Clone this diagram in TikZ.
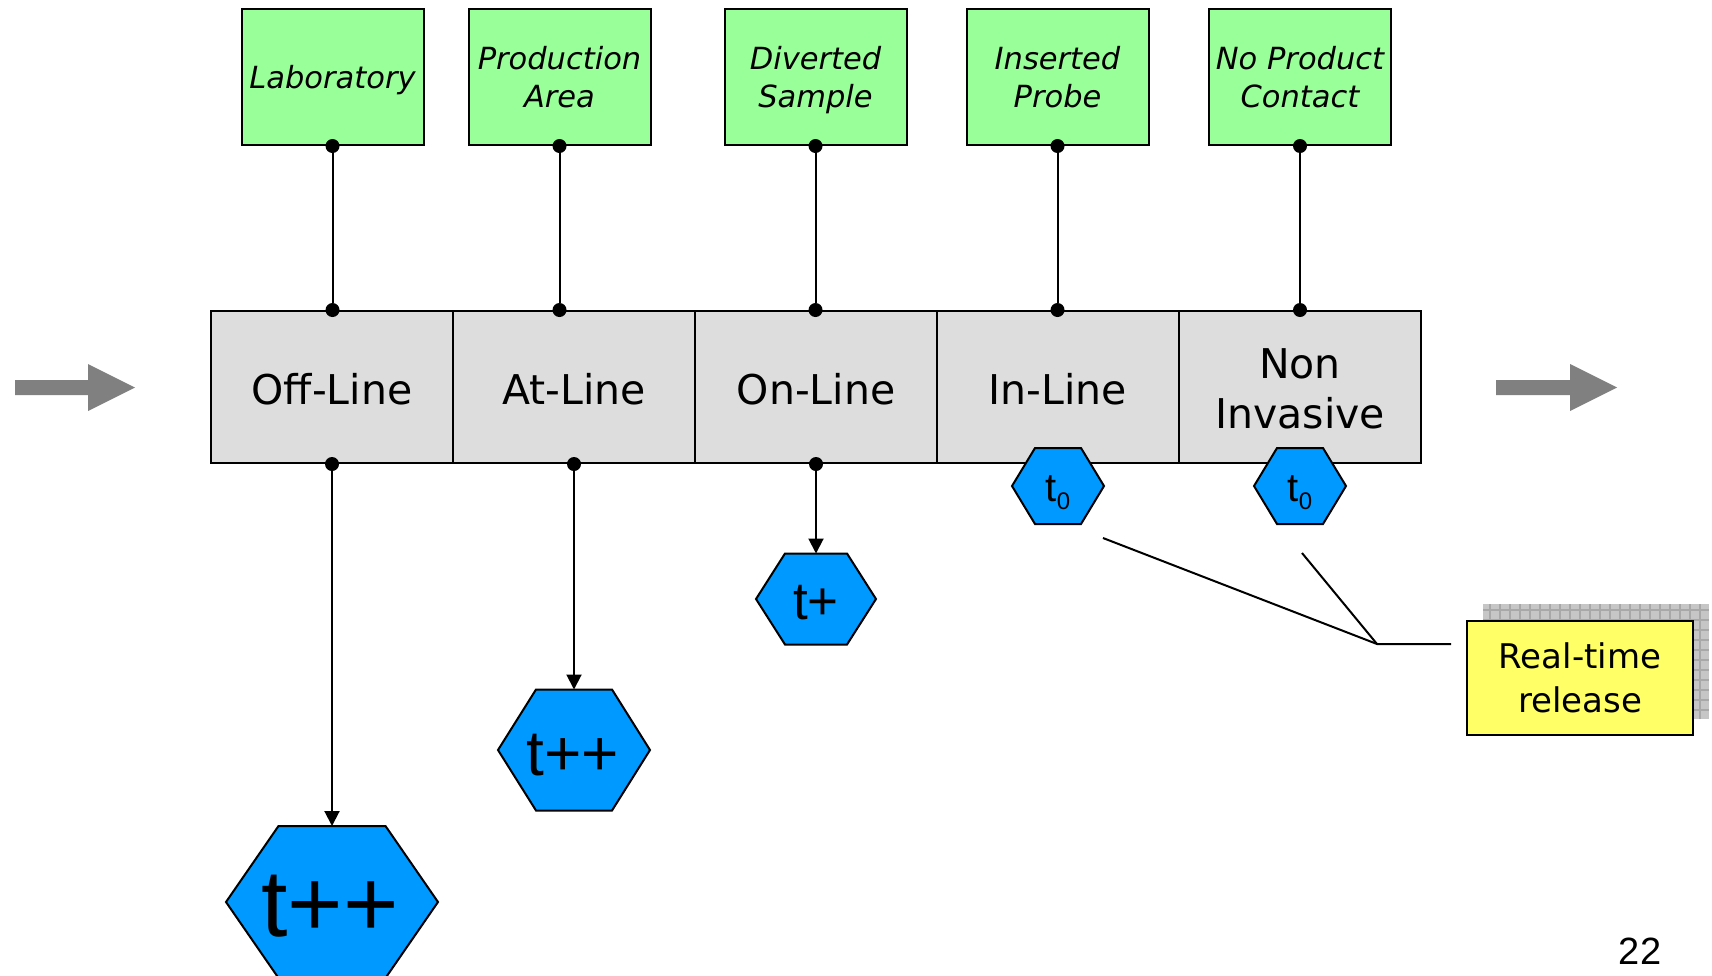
\documentclass[tikz,border=0pt]{standalone}
\usepackage{fontspec}
\setmainfont{DejaVu Sans}
\newfontfamily\numfont{Liberation Sans}
\usetikzlibrary{arrows.meta}

\definecolor{probegreen}{HTML}{99FF99}
\definecolor{cellgray}{HTML}{DDDDDD}
\definecolor{hexblue}{HTML}{0099FF}
\definecolor{noteyellow}{HTML}{FFFF66}
\definecolor{flowgray}{HTML}{808080}
\definecolor{shadowgray}{HTML}{C6C6C6}
\definecolor{shadowline}{HTML}{A8A8A8}

% lower a cell caption a little without changing its measured size
\newcommand\lowered[2][2pt]{\raisebox{-#1}[\height][\depth]{#2}}

\tikzset{
  locbox/.style={draw, line width=2pt, fill=probegreen, minimum width=182pt,
    minimum height=136pt, inner sep=0pt, align=center, text depth=0pt,
    font=\fontsize{30.5}{38}\selectfont\itshape},
  cell/.style={draw, line width=2pt, fill=cellgray, minimum width=242pt,
    minimum height=152pt, inner sep=0pt, align=center,
    font=\fontsize{41}{50}\selectfont},
  joint/.style={circle, fill=black, inner sep=0pt, minimum size=14pt},
  link/.style={line width=2pt},
  feed/.style={line width=2pt, -{Triangle[length=15pt,width=15pt]}},
  hexlabel/.style={inner sep=0pt, anchor=base},
  flowarrow/.style={fill=flowgray},
  note/.style={draw, line width=2pt, fill=noteyellow, minimum width=226pt,
    minimum height=114pt, inner sep=0pt, align=center,
    font=\fontsize{34}{44}\selectfont},
  pics/hexa/.style n args={3}{code={
    \filldraw[fill=hexblue, draw=black, line width=2pt]
      (-#1,0) -- (-#3,-#2) -- (#3,-#2) -- (#1,0) -- (#3,#2) -- (-#3,#2) -- cycle;}},
}

\begin{document}
\begin{tikzpicture}[x=1pt, y=-1pt]
\useasboundingbox (0,0) rectangle (1712,975);

% flow direction arrows
\fill[flowarrow] (15,380) -- (88,380) -- (88,364) -- (135,387.5) -- (88,411) -- (88,395) -- (15,395) -- cycle;
\fill[flowarrow] (1496,380) -- (1570,380) -- (1570,364) -- (1617,387.5) -- (1570,411) -- (1570,395) -- (1496,395) -- cycle;

% sampling locations
\node[locbox] (lab)  at (332.5,77) {Laboratory};
\node[locbox] (prod) at (559.5,77) {Production\\Area};
\node[locbox] (div)  at (815.5,77) {Diverted\\Sample};
\node[locbox] (ins)  at (1057.5,77) {Inserted\\Probe};
\node[locbox] (noc)  at (1300,77) {No Product\\Contact};

% measurement modes
\node[cell] (off) at (332,387) {\lowered{Off-Line}};
\node[cell] (at)  at (574,387) {\lowered{At-Line}};
\node[cell] (on)  at (816,387) {\lowered{On-Line}};
\node[cell] (in)  at (1058,387) {\lowered{In-Line}};
\node[cell] (non) at (1300,387) {\lowered[6.5pt]{\begin{tabular}{@{}c@{}}Non\\Invasive\end{tabular}}};

% joints on the location boxes and on the mode row
\node[joint] (labj)  at (lab.south) {};
\node[joint] (prodj) at (prod.south) {};
\node[joint] (divj)  at (div.south) {};
\node[joint] (insj)  at (ins.south) {};
\node[joint] (nocj)  at (noc.south) {};
\node[joint] (offt) at (off.north -| lab.south) {};
\node[joint] (att)  at (at.north -| prod.south) {};
\node[joint] (ont)  at (on.north -| div.south) {};
\node[joint] (int)  at (in.north -| ins.south) {};
\node[joint] (nont) at (non.north -| noc.south) {};
\node[joint] (offb) at (off.south) {};
\node[joint] (atb)  at (at.south) {};
\node[joint] (onb)  at (on.south) {};

\draw[link] (labj) -- (offt);
\draw[link] (prodj) -- (att);
\draw[link] (divj) -- (ont);
\draw[link] (insj) -- (int);
\draw[link] (nocj) -- (nont);

% result times
\pic at (332,902) {hexa={106}{76}{53.5}};
\pic at (574,750) {hexa={76}{60.5}{38}};
\pic at (816,599) {hexa={60}{45.5}{31}};
\pic at (1058,486) {hexa={46}{38}{23}};
\pic at (1300,486) {hexa={46}{38}{23}};

\coordinate (h1top) at (332,826);
\coordinate (h2top) at (574,689.5);
\coordinate (h3top) at (816,553.5);

\node[hexlabel, font=\numfont\fontsize{95}{95}\selectfont] (h1) at (330,936) {t++};
\node[hexlabel, font=\numfont\fontsize{64}{64}\selectfont] (h2) at (573,775) {t++};
\node[hexlabel, font=\numfont\fontsize{53}{53}\selectfont] (h3) at (816,619) {t+};
\node[hexlabel, font=\numfont\fontsize{40}{40}\selectfont] (h4) at (1058,501.5) {t\raisebox{-8pt}{\fontsize{24}{24}\selectfont 0}};
\node[hexlabel, font=\numfont\fontsize{40}{40}\selectfont] (h5) at (1300,501.5) {t\raisebox{-8pt}{\fontsize{24}{24}\selectfont 0}};

\draw[feed] (offb) -- (h1top);
\draw[feed] (atb) -- (h2top);
\draw[feed] (onb) -- (h3top);

% real-time release note with its hatched shadow
\fill[shadowgray] (1483,604) rectangle (1709,719);
\draw[shadowline, line width=1.2pt, xstep=10pt, ystep=10pt] (1483,604) grid (1709,719);
\node[note] (rt) at (1580,678) {Real-time\\release};

\coordinate (ca) at (1103,538);
\coordinate (cb) at (1302,553);
\coordinate (ck) at (1377,644);
\coordinate (cc) at (1451,644);
\draw[link] (ca) -- (ck) -- (cc);
\draw[link] (cb) -- (ck);

% page number
\node[anchor=base, inner sep=0pt, font=\numfont\fontsize{38}{38}\selectfont] (pg) at (1640,964) {22};
\end{tikzpicture}
\end{document}
